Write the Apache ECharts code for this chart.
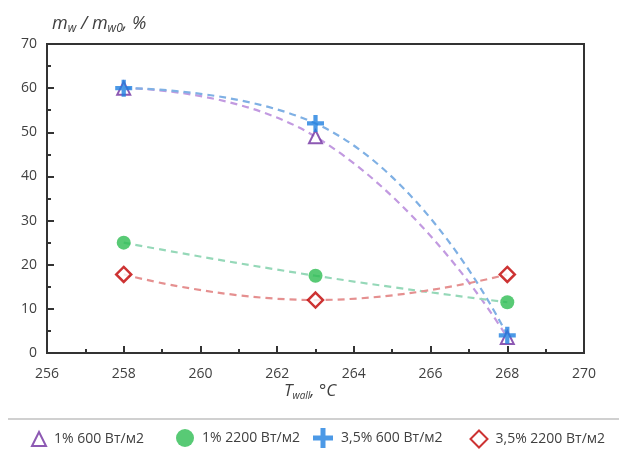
<!DOCTYPE html>
<html>
<head>
<meta charset="utf-8">
<script src="https://cdn.jsdelivr.net/npm/echarts@6/dist/echarts.min.js"></script>
<style>html,body{margin:0;padding:0;background:#fff;}#c{width:619px;height:459px;}</style>
</head>
<body>
<div id="c"></div>
<script>
var temps = [258, 263, 268];
var names = ['1% 600 Вт/м2', '1% 2200 Вт/м2', '3,5% 600 Вт/м2', '3,5% 2200 Вт/м2'];
var s1pct600 = [60, 49, 3.5];
var s1pct2200 = [25, 17.5, 11.5];
var s35pct600 = [60, 52, 4];
var s35pct2200 = [17.8, 12, 17.8];
var xTicks = [256, 258, 260, 262, 264, 266, 268, 270];
var yTicks = [0, 10, 20, 30, 40, 50, 60, 70];

function pairs(v) { return temps.map(function (t, i) { return [t, v[i]]; }); }

var crossPath = 'path://M6,0 L10,0 L10,6 L16,6 L16,10 L10,10 L10,16 L6,16 L6,10 L0,10 L0,6 L6,6 Z';
var font = 'Open Sans, Liberation Sans, sans-serif';

var chart = echarts.init(document.getElementById('c'));
var fitStyle = function (c) {
  return { type: 'line', smooth: 0.5, showSymbol: false, silent: true, z: 1,
    lineStyle: { color: c, width: 2.2, type: [7, 5] } };
};
var fits = [
  Object.assign(fitStyle('#c29ae0'), { name: 'f1', data: pairs(s1pct600) }),
  Object.assign(fitStyle('#7fb0e4'), { name: 'f3', data: pairs(s35pct600) }),
  Object.assign(fitStyle('#95d8b8'), { name: 'f2', data: pairs(s1pct2200) }),
  Object.assign(fitStyle('#e59090'), { name: 'f4', data: pairs(s35pct2200) })
];
var legendCenters = [33, 180, 318, 473];
var legendSizes = [14, 18, 20, 17];
var legends = names.map(function (n, i) {
  var s = legendSizes[i];
  return { data: [n], left: legendCenters[i] - s / 2, top: 433 - s / 2,
    itemWidth: s, itemHeight: s, selectedMode: false,
    textStyle: { color: '#404040', fontSize: 14, fontFamily: font, padding: [0, 0, 0, 3] } };
});
var option = {
  animation: false,
  grid: { left: 47, right: 35, top: 44, bottom: 106, show: true, borderColor: '#333', borderWidth: 2 },
  xAxis: {
    type: 'value', min: 256, max: 270, interval: 2,
    axisLine: { lineStyle: { color: '#333', width: 2 } },
    axisTick: { inside: true, length: 7, lineStyle: { color: '#333', width: 2 } },
    minorTick: { show: true, splitNumber: 2, length: 4, lineStyle: { color: '#333', width: 2 } },
    splitLine: { show: false },
    axisLabel: { color: '#404040', fontSize: 14, fontFamily: font, margin: 14,
      formatter: function (v) { return xTicks.indexOf(v) >= 0 ? String(v) : ''; } }
  },
  yAxis: {
    type: 'value', min: 0, max: 70, interval: 10,
    axisLine: { lineStyle: { color: '#333', width: 2 } },
    axisTick: { inside: true, length: 7, lineStyle: { color: '#333', width: 2 } },
    minorTick: { show: true, splitNumber: 2, length: 4, lineStyle: { color: '#333', width: 2 } },
    splitLine: { show: false },
    axisLabel: { color: '#404040', fontSize: 14, fontFamily: font, margin: 10,
      formatter: function (v) { return yTicks.indexOf(v) >= 0 ? String(v) : ''; } }
  },
  legend: legends,
  graphic: [
    { type: 'line', shape: { x1: 8, y1: 419, x2: 619, y2: 419 }, style: { stroke: '#d0d0d0', lineWidth: 2 } },
    { type: 'text', left: 52, top: 15, style: {
      text: '{i|m}{s|w}{i| / m}{s|w0}{i|, %}', fontFamily: font,
      rich: { i: { fontSize: 18, fontStyle: 'italic', fill: '#404040', fontFamily: font },
              s: { fontSize: 12, fontStyle: 'italic', fill: '#404040', fontFamily: font, verticalAlign: 'bottom', padding: [9, 0, 0, 0] } } } },
    { type: 'text', left: 284, top: 383, style: {
      text: '{i|T}{s|wall}{i|, °C}', fontFamily: font,
      rich: { i: { fontSize: 17, fontStyle: 'italic', fill: '#404040', fontFamily: font },
              s: { fontSize: 10, fontStyle: 'italic', fill: '#404040', fontFamily: font, verticalAlign: 'bottom', padding: [9, 0, 0, 0] } } } }
  ],
  series: fits.concat([
    { name: names[0], type: 'scatter', data: pairs(s1pct600), symbol: 'triangle', symbolSize: 13, z: 3,
      itemStyle: { color: '#fff', borderColor: '#7030a0', borderWidth: 2 } },
    { name: names[1], type: 'scatter', data: pairs(s1pct2200), symbol: 'circle', symbolSize: 14, z: 3,
      itemStyle: { color: '#2ebd52' } },
    { name: names[2], type: 'scatter', data: pairs(s35pct600), symbol: crossPath, symbolSize: 17, z: 4,
      itemStyle: { color: '#1f7fe0' } },
    { name: names[3], type: 'scatter', data: pairs(s35pct2200), symbol: 'diamond', symbolSize: 15, z: 3,
      itemStyle: { color: '#fff', borderColor: '#c00000', borderWidth: 2.5 } }
  ])
};
chart.setOption(option);
</script>
</body>
</html>
